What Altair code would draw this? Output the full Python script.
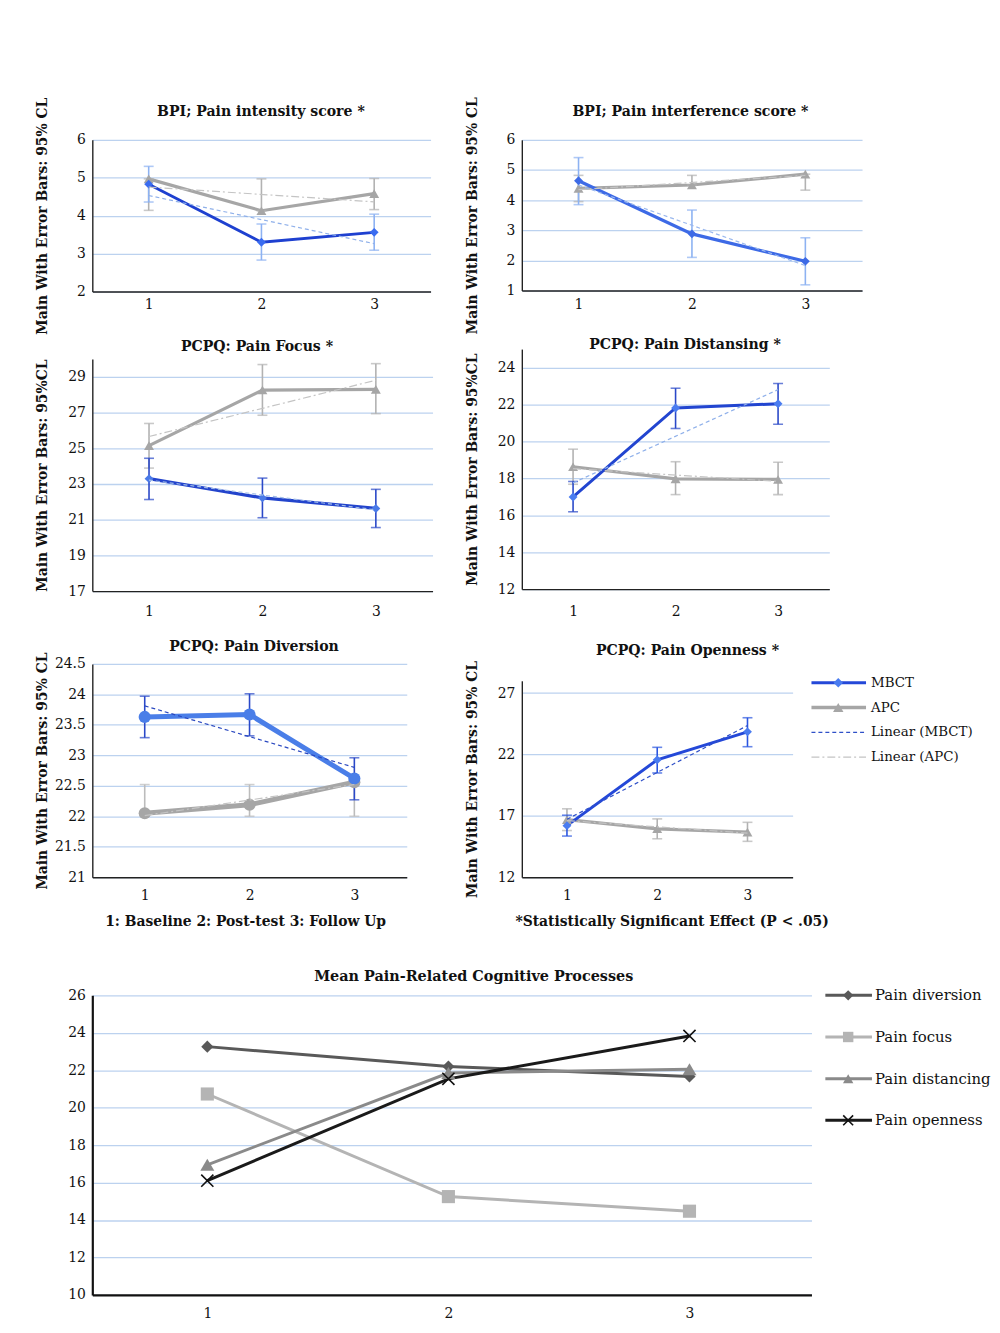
import altair as alt
import pandas as pd

FONT = "DejaVu Serif"
TXT = "#111111"
GRID = "#bcd2ef"

timepoints = [1, 2, 3]
groups = ["MBCT", "APC"]
legend_labels = ["MBCT", "APC", "Linear (MBCT)", "Linear (APC)"]

# ---- Panel 1: BPI; Pain intensity score ----
p1_mbct = [4.83, 3.30, 3.56]
p1_mbct_lo = [4.36, 2.83, 3.09]
p1_mbct_hi = [5.30, 3.78, 4.04]
p1_apc = [4.97, 4.13, 4.58]
p1_apc_lo = [4.14, 4.13, 4.16]
p1_apc_hi = [4.97, 4.97, 4.98]
p1_ticks = [2, 3, 4, 5, 6]

# ---- Panel 2: BPI; Pain interference score ----
p2_mbct = [4.64, 2.88, 1.97]
p2_mbct_lo = [3.85, 2.10, 1.19]
p2_mbct_hi = [5.41, 3.67, 2.75]
p2_apc = [4.39, 4.50, 4.86]
p2_apc_lo = [3.95, 4.50, 4.33]
p2_apc_hi = [4.82, 4.82, 4.86]
p2_ticks = [1, 2, 3, 4, 5, 6]

# ---- Panel 3: PCPQ: Pain Focus ----
p3_mbct = [23.30, 22.22, 21.63]
p3_mbct_lo = [22.13, 21.11, 20.56]
p3_mbct_hi = [24.44, 23.33, 22.70]
p3_apc = [25.15, 28.26, 28.30]
p3_apc_lo = [23.89, 26.85, 26.94]
p3_apc_hi = [26.39, 29.69, 29.74]
p3_ticks = [17, 19, 21, 23, 25, 27, 29]

# ---- Panel 4: PCPQ: Pain Distansing ----
p4_mbct = [16.99, 21.81, 22.04]
p4_mbct_lo = [16.19, 20.70, 20.93]
p4_mbct_hi = [17.83, 22.88, 23.14]
p4_apc = [18.63, 17.97, 17.94]
p4_apc_lo = [17.68, 17.12, 17.12]
p4_apc_hi = [19.58, 18.90, 18.87]
p4_ticks = [12, 14, 16, 18, 20, 22, 24]

# ---- Panel 5: PCPQ: Pain Diversion ----
p5_mbct = [23.63, 23.67, 22.62]
p5_mbct_lo = [23.29, 23.32, 22.27]
p5_mbct_hi = [23.97, 24.01, 22.96]
p5_apc = [22.05, 22.19, 22.56]
p5_apc_lo = [22.00, 22.00, 22.00]
p5_apc_hi = [22.52, 22.52, 22.56]
p5_ticks = [21, 21.5, 22, 22.5, 23, 23.5, 24, 24.5]

# ---- Panel 6: PCPQ: Pain Openness ----
p6_mbct = [16.20, 21.56, 23.84]
p6_mbct_lo = [15.35, 20.49, 22.63]
p6_mbct_hi = [17.05, 22.58, 24.99]
p6_apc = [16.69, 15.94, 15.67]
p6_apc_lo = [15.80, 15.13, 14.92]
p6_apc_hi = [17.57, 16.75, 16.47]
p6_ticks = [12, 17, 22, 27]

# ---- Bottom: Mean Pain-Related Cognitive Processes ----
series_names = ["Pain diversion", "Pain focus", "Pain distancing", "Pain openness"]
mean_diversion = [23.26, 22.20, 21.67]
mean_focus = [20.73, 15.25, 14.47]
mean_distancing = [16.95, 21.85, 22.05]
mean_openness = [16.10, 21.54, 23.83]
bottom_ticks = [10, 12, 14, 16, 18, 20, 22, 24, 26]

TICK_FS = 14
YTITLE_FS = 14
PTITLE_FS = 14.2
LEG_FS = 13.5
CAP_FS = 14


def panel_df(m, mlo, mhi, a, alo, ahi):
    rows = []
    for g, v, lo, hi in (("APC", a, alo, ahi), ("MBCT", m, mlo, mhi)):
        for t, vv, l, h in zip(timepoints, v, lo, hi):
            rows.append(dict(t=t, group=g, v=vv, lo=l, hi=h))
    return pd.DataFrame(rows)


def make_panel(df, cfg):
    w, h = cfg["w"], cfg["h"]
    xscale = alt.Scale(domain=[0.5, 3.5], nice=False, zero=False)
    xaxis = dict(values=timepoints, format="d", grid=False, ticks=False,
                 domainColor="#222", domainWidth=1.4, labelPadding=cfg["xpad"],
                 labelFont=FONT, labelFontSize=TICK_FS, labelColor=TXT)
    if cfg.get("xtitle"):
        xaxis.update(titleX=cfg["xtitle_x"], titleY=45, titleBaseline="middle",
                     titleAlign="center", titleFont=FONT, titleFontSize=CAP_FS,
                     titleFontWeight="bold", titleColor=TXT)
        x_main = alt.X("t:Q", scale=xscale, axis=alt.Axis(**xaxis), title=cfg["xtitle"])
    else:
        x_main = alt.X("t:Q", scale=xscale, axis=alt.Axis(**xaxis), title=None)
    x_none = alt.X("t:Q", scale=xscale, axis=None)
    x_top = alt.X("t:Q", scale=xscale, title=cfg["title"],
                  axis=alt.Axis(orient="top", labels=False, domain=False, ticks=False,
                                grid=False, titleX=w / 2 + cfg["tdx"], titleY=-cfg["tdist"],
                                titleBaseline="middle", titleAlign="center",
                                titleFont=FONT, titleFontSize=PTITLE_FS,
                                titleFontWeight="bold", titleColor=TXT))
    yaxis = alt.Axis(values=cfg["ticks"], format="~g", grid=True, gridColor=GRID,
                     gridWidth=1.3, ticks=False, domainColor="#222", domainWidth=1.4,
                     labelFont=FONT, labelFontSize=TICK_FS, labelColor=TXT, labelPadding=7,
                     titleFont=FONT, titleFontSize=YTITLE_FS, titleFontWeight="bold",
                     titleColor=TXT, titleX=-43)
    yscale = alt.Scale(domain=cfg["domain"], nice=False, zero=False)

    def Y(field):
        return alt.Y(field, scale=yscale, axis=yaxis, title=cfg["ytitle"])

    base = alt.Chart(df)
    layers = []
    st = cfg["style"]
    order = ["APC", "MBCT"]
    first = True
    for g in order:
        s = st[g]
        layers.append(base.transform_filter(alt.datum.group == g)
                      .mark_line(color=s["line"], strokeWidth=s["lw"])
                      .encode(x=x_main if first else x_none, y=Y("v:Q")))
        first = False
    for g in order:
        s = st[g]
        sub = base.transform_filter(alt.datum.group == g)
        layers.append(sub.mark_rule(color=s["err"], strokeWidth=1.6)
                      .encode(x=x_none, y=Y("lo:Q"), y2="hi:Q"))
        layers.append(sub.transform_fold(["lo", "hi"], as_=["k", "ev"])
                      .mark_tick(orient="horizontal", color=s["err"], size=10, thickness=1.6)
                      .encode(x=x_none, y=Y("ev:Q")))
    for g in order:
        s = st[g]
        layers.append(base.transform_filter(alt.datum.group == g)
                      .mark_point(filled=True, shape=s["shape"], size=s["size"],
                                  color=s["marker"], opacity=1)
                      .encode(x=x_none, y=Y("v:Q")))
    for g in order:
        s = st[g]
        layers.append(base.transform_filter(alt.datum.group == g)
                      .transform_regression("t", "v")
                      .mark_line(color=s["trend"], strokeWidth=1.2, strokeDash=s["dash"])
                      .encode(x=x_top if g == "MBCT" else x_none, y=Y("v:Q")))
    main = alt.layer(*layers).resolve_axis(x="independent")
    if cfg.get("legend"):
        leg = alt.Chart(pd.DataFrame({"label": legend_labels}))
        ly = alt.Y("label:N", sort=legend_labels,
                   scale=alt.Scale(type="point", domain=legend_labels, range=[2, 77], padding=0),
                   axis=None)
        m, a = st["MBCT"], st["APC"]
        lx0, lx1, lxm, ltx = 292, 347, 319, 352
        leg_layers = [
            leg.transform_filter(alt.datum.label == "MBCT").mark_rule(color=m["line"], strokeWidth=3)
               .encode(x=alt.value(lx0), x2=alt.value(lx1), y=ly),
            leg.transform_filter(alt.datum.label == "MBCT").mark_point(filled=True, shape="diamond", size=90, color=m["marker"], opacity=1)
               .encode(x=alt.value(lxm), y=ly),
            leg.transform_filter(alt.datum.label == "APC").mark_rule(color=a["line"], strokeWidth=3.5)
               .encode(x=alt.value(lx0), x2=alt.value(lx1), y=ly),
            leg.transform_filter(alt.datum.label == "APC").mark_point(filled=True, shape="triangle-up", size=110, color=a["marker"], opacity=1)
               .encode(x=alt.value(lxm), y=ly),
            leg.transform_filter(alt.datum.label == "Linear (MBCT)").mark_rule(color=m["trend"], strokeWidth=1.3, strokeDash=m["dash"])
               .encode(x=alt.value(lx0), x2=alt.value(lx1), y=ly),
            leg.transform_filter(alt.datum.label == "Linear (APC)").mark_rule(color=a["trend"], strokeWidth=1.3, strokeDash=a["dash"])
               .encode(x=alt.value(lx0), x2=alt.value(lx1), y=ly),
            leg.mark_text(align="left", baseline="middle", font=FONT, fontSize=LEG_FS, color=TXT)
               .encode(x=alt.value(ltx), y=ly, text="label:N"),
        ]
        chart = alt.layer(main, *leg_layers).resolve_scale(y="independent")
    else:
        chart = main
    return chart.properties(width=w, height=h)


DASH = [4, 3]
DASHDOT = [8, 3, 2, 3]


def style(mline, mmark, merr, mtrend, lw=2.8, shape_m="diamond", shape_a="triangle-up",
          size_m=80, size_a=100, apc_err="#b2b2b2", alw=3.2):
    return {
        "MBCT": dict(line=mline, marker=mmark, err=merr, trend=mtrend, lw=lw,
                     shape=shape_m, size=size_m, dash=DASH),
        "APC": dict(line="#a6a6a6", marker="#a6a6a6", err=apc_err, trend="#c4c4c4", lw=alw,
                    shape=shape_a, size=size_a, dash=DASHDOT),
    }


YT1 = "Main With Error Bars: 95% CL"
YT2 = "Main With Error Bars: 95%CL"

p1 = make_panel(panel_df(p1_mbct, p1_mbct_lo, p1_mbct_hi, p1_apc, p1_apc_lo, p1_apc_hi), dict(
    w=341, h=153, domain=[2, 6], ticks=p1_ticks, title="BPI; Pain intensity score *",
    tdist=28, tdx=-1, xpad=6, ytitle=YT1,
    style=style("#1e40d0", "#3a6cf0", "#8db2f2", "#8fb0ea")))
p2 = make_panel(panel_df(p2_mbct, p2_mbct_lo, p2_mbct_hi, p2_apc, p2_apc_lo, p2_apc_hi), dict(
    w=343, h=152, domain=[1, 6], ticks=p2_ticks, title="BPI; Pain interference score *",
    tdist=28, tdx=-2, xpad=7, ytitle=YT1,
    style=style("#3d6ae6", "#3d6ae6", "#8db2f2", "#9ab8ee", lw=3.2)))
p3 = make_panel(panel_df(p3_mbct, p3_mbct_lo, p3_mbct_hi, p3_apc, p3_apc_lo, p3_apc_hi), dict(
    w=343, h=234, domain=[17, 30], ticks=p3_ticks, title="PCPQ: Pain Focus *",
    tdist=13, tdx=-6, xpad=14, ytitle=YT2,
    style=style("#2344cc", "#4a7ae8", "#2a48c8", "#a0bce8", lw=3.2)))
p4 = make_panel(panel_df(p4_mbct, p4_mbct_lo, p4_mbct_hi, p4_apc, p4_apc_lo, p4_apc_hi), dict(
    w=310, h=242, domain=[12, 25], ticks=p4_ticks, title="PCPQ: Pain Distansing *",
    tdist=5, tdx=9, xpad=16, ytitle=YT2,
    style=style("#2245d0", "#4a7cf0", "#2a48c8", "#8fb0ea", lw=3.0)))
p5 = make_panel(panel_df(p5_mbct, p5_mbct_lo, p5_mbct_hi, p5_apc, p5_apc_lo, p5_apc_hi), dict(
    w=317, h=215, domain=[21, 24.5], ticks=p5_ticks, title="PCPQ: Pain Diversion",
    tdist=18, tdx=4, xpad=11, ytitle=YT1,
    xtitle="1: Baseline 2: Post-test 3: Follow Up", xtitle_x=154,
    style=style("#4a7ee8", "#4a7ee8", "#2a48c8", "#2a48c0", lw=5, shape_m="circle",
                shape_a="circle", size_m=150, size_a=150, apc_err="#bcbcbc", alw=5)))
p6 = make_panel(panel_df(p6_mbct, p6_mbct_lo, p6_mbct_hi, p6_apc, p6_apc_lo, p6_apc_hi), dict(
    w=273, h=198, domain=[12, 28], ticks=p6_ticks, title="PCPQ: Pain Openness *",
    tdist=30, tdx=30, xpad=11, ytitle=YT1,
    xtitle="*Statistically Significant Effect (P < .05)", xtitle_x=151, legend=True,
    style=style("#2448d8", "#4a7cf0", "#2a55e0", "#2f50c8", lw=3.0)))

# ---- bottom chart ----
bottom_rows = []
for name, vals in zip(series_names, [mean_diversion, mean_focus, mean_distancing, mean_openness]):
    for t, v in zip(timepoints, vals):
        bottom_rows.append(dict(series=name, t=t, v=v))
bdf = pd.DataFrame(bottom_rows)

series_colors = ["#595959", "#b4b4b4", "#8a8a8a", "#1a1a1a"]
cscale = alt.Scale(domain=series_names, range=series_colors)
shape_scale = alt.Scale(domain=series_names[:3], range=["diamond", "square", "triangle-up"])
XPATH = "M-1,-1L1,1M-1,1L1,-1"

bx = alt.X("t:Q", scale=alt.Scale(domain=[0.523, 3.506], nice=False, zero=False), title=None,
           axis=alt.Axis(values=timepoints, format="d", grid=False, ticks=False,
                         domainColor="#111", domainWidth=2.2, labelPadding=12,
                         labelFont=FONT, labelFontSize=TICK_FS, labelColor=TXT))
by = alt.Y("v:Q", scale=alt.Scale(domain=[10, 26], nice=False, zero=False), title=None,
           axis=alt.Axis(values=bottom_ticks, grid=True, gridColor=GRID, gridWidth=1.3,
                         ticks=False, domainColor="#111", domainWidth=2.2, labelPadding=7,
                         labelFont=FONT, labelFontSize=TICK_FS, labelColor=TXT))
bbase = alt.Chart(bdf)
blines = bbase.mark_line(strokeWidth=3).encode(
    x=bx, y=by, color=alt.Color("series:N", scale=cscale, legend=None), detail="series:N")
bfilled = bbase.transform_filter(alt.datum.series != "Pain openness").mark_point(
    filled=True, opacity=1).encode(
    x=bx, y=by,
    color=alt.Color("series:N", scale=cscale, legend=None),
    shape=alt.Shape("series:N", scale=shape_scale, legend=None),
    size=alt.Size("series:N", scale=alt.Scale(domain=series_names[:3], range=[150, 200, 190]), legend=None))
bcross = bbase.transform_filter(alt.datum.series == "Pain openness").mark_point(
    shape=XPATH, filled=False, size=150, strokeWidth=1.6, color="#111", opacity=1).encode(x=bx, y=by)
bmain = alt.layer(blines, bfilled, bcross)

bleg = alt.Chart(pd.DataFrame({"series": series_names}))
bly = alt.Y("series:N", sort=series_names,
            scale=alt.Scale(type="point", domain=series_names, range=[0, 126], padding=0), axis=None)
bl0, bl1, blm, blt = 739, 786, 762, 789
bleg_layers = [
    bleg.mark_rule(strokeWidth=3).encode(x=alt.value(bl0), x2=alt.value(bl1), y=bly,
                                         color=alt.Color("series:N", scale=cscale, legend=None)),
    bleg.transform_filter(alt.datum.series != "Pain openness").mark_point(filled=True, opacity=1).encode(
        x=alt.value(blm), y=bly,
        color=alt.Color("series:N", scale=cscale, legend=None),
        shape=alt.Shape("series:N", scale=shape_scale, legend=None),
        size=alt.value(110)),
    bleg.transform_filter(alt.datum.series == "Pain openness").mark_point(
        shape=XPATH, filled=False, size=100, strokeWidth=1.6, color="#111", opacity=1).encode(
        x=alt.value(blm), y=bly),
    bleg.mark_text(align="left", baseline="middle", font=FONT, fontSize=15, color=TXT).encode(
        x=alt.value(blt), y=bly, text="series:N"),
]
bottom = alt.layer(bmain, *bleg_layers).resolve_scale(y="independent").properties(
    width=725, height=302,
    title=alt.TitleParams("Mean Pain-Related Cognitive Processes", font=FONT, fontSize=14.5,
                          fontWeight="bold", color=TXT, offset=4, dx=22,
                          frame="group", anchor="middle"))

col1 = alt.vconcat(alt.vconcat(p1, p3, spacing=3), p5, spacing=18.4)
col2 = alt.vconcat(alt.vconcat(p2, p4, spacing=1), p6, spacing=23.4)
top = alt.hconcat(col1, col2, spacing=31)

chart = alt.vconcat(top, bottom, spacing=39.5).properties(
    padding={"left": 27, "top": 82.5, "right": 0, "bottom": 0},
    background="white",
).configure_view(stroke="transparent")

chart.save("out.html", embed_options={"renderer": "svg", "actions": False})
